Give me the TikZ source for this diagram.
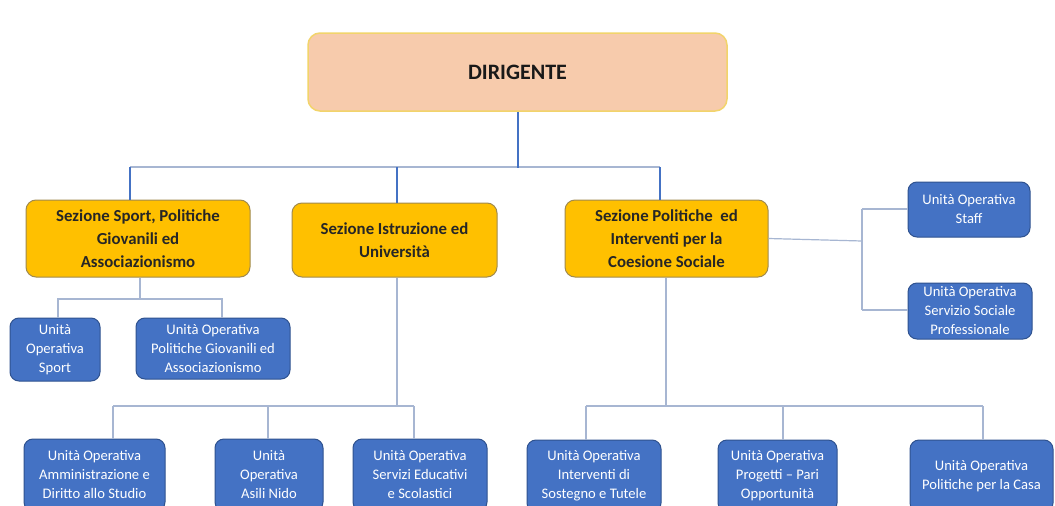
\documentclass[tikz,border=0pt]{standalone}
\usepackage{fontspec}
\setmainfont{Carlito}
\definecolor{peach}{HTML}{F7CBAC}
\definecolor{peachline}{HTML}{F2D46B}
\definecolor{gold}{HTML}{FFC000}
\definecolor{goldline}{HTML}{A08A4E}
\definecolor{ublue}{HTML}{4472C4}
\definecolor{ubline}{HTML}{2F528F}
\definecolor{thinln}{HTML}{A7B6D2}
\definecolor{thickln}{HTML}{4472C4}
\begin{document}
\begin{tikzpicture}[x=1pt,y=-1pt,
  dirbox/.style={rectangle, rounded corners=12pt, fill=peach, draw=peachline, line width=1.5pt,
    font=\bfseries\fontsize{22}{26}\selectfont, text=black!90},
  sez/.style={rectangle, rounded corners=10pt, fill=gold, draw=goldline, line width=1pt,
    align=center, inner sep=0pt, font=\bfseries\fontsize{16.8}{23}\selectfont, text=black!85},
  uo/.style={rectangle, rounded corners=9pt, fill=ublue, draw=ubline, line width=1pt,
    align=center, inner sep=0pt, text=white, font=\fontsize{14.6}{19}\selectfont},
  thinl/.style={draw=thinln, line width=1.2pt},
  thickl/.style={draw=thickln, line width=2.6pt}]
\useasboundingbox (0,0) rectangle (1055,506);
\clip (0,0) rectangle (1055,506);
\fill[white] (0,0) rectangle (1055,506);

% nodes
\node[dirbox, minimum width=419pt, minimum height=78pt] (dir) at (517.5,72) {DIRIGENTE};

\node[sez, minimum width=224pt, minimum height=77pt] (sport) at (138,238.5)
  {Sezione Sport, Politiche\\Giovanili ed\\Associazionismo};
\node[sez, minimum width=205pt, minimum height=74pt] (istr) at (394.5,240)
  {Sezione Istruzione ed\\Università};
\node[sez, minimum width=203pt, minimum height=77pt] (pol) at (666.5,238.5)
  {Sezione Politiche\ \ ed\\Interventi per la\\Coesione Sociale};

\node[uo, minimum width=90pt, minimum height=63pt] (uosport) at (55,349.5)
  {Unità\\Operativa\\Sport};
\node[uo, minimum width=154pt, minimum height=61pt] (uopg) at (213,348.5)
  {Unità Operativa\\Politiche Giovanili ed\\Associazionismo};

\node[uo, minimum width=141pt, minimum height=72pt] (uoam) at (94.5,475)
  {Unità Operativa\\Amministrazione e\\Diritto allo Studio};
\node[uo, minimum width=108pt, minimum height=72pt] (uoan) at (269,475)
  {Unità\\Operativa\\Asili Nido};
\node[uo, minimum width=134pt, minimum height=72pt] (uose) at (420,475)
  {Unità Operativa\\Servizi Educativi\\e Scolastici};

\node[uo, minimum width=134pt, minimum height=72pt] (uoint) at (594,476)
  {Unità Operativa\\Interventi di\\Sostegno e Tutele};
\node[uo, minimum width=119pt, minimum height=72pt] (uopr) at (777.5,476)
  {Unità Operativa\\Progetti -- Pari\\Opportunità};
\node[uo, minimum width=143pt, minimum height=72pt] (uoca) at (981.5,476)
  {Unità Operativa\\Politiche per la Casa};

\node[uo, minimum width=122pt, minimum height=55pt] (staff) at (969,209.5)
  {Unità Operativa\\Staff};
\node[uo, minimum width=124pt, minimum height=56pt] (serv) at (970,311)
  {Unità Operativa\\Servizio Sociale\\Professionale};

% junction coordinates
\coordinate (j0) at (518,167);
\coordinate (b1) at (130,167);
\coordinate (b2) at (397,167);
\coordinate (b3) at (660,167);

\coordinate (s0) at (140,299);
\coordinate (s1) at (58,299);
\coordinate (s2) at (222,299);

\coordinate (i0) at (397,406);
\coordinate (i1) at (113,406);
\coordinate (i2) at (268,406);
\coordinate (i3) at (414,406);

\coordinate (p0) at (666,406);
\coordinate (p1) at (586,406);
\coordinate (p2) at (783,406);
\coordinate (p3) at (983,406);

\coordinate (r0) at (862,241);
\coordinate (r1) at (862,209);
\coordinate (r2) at (862,310);

% connectors
\draw[thinl] (b1) -- (b3);
\draw[thickl] (dir.south -| j0) -- ([yshift=-1pt]j0);
\draw[thickl] (b1) -- (b1 |- sport.north);
\draw[thickl] (b2) -- (b2 |- istr.north);
\draw[thickl] (b3) -- (b3 |- pol.north);

\draw[thinl] (sport.south -| s0) -- (s0);
\draw[thinl] (s1 |- uosport.north) -- (s1) -- (s2) -- (s2 |- uopg.north);

\draw[thinl] (istr.south -| i0) -- (i0);
\draw[thinl] (i1) -- (i3);
\draw[thinl] (i1) -- (i1 |- uoam.north);
\draw[thinl] (i2) -- (i2 |- uoan.north);
\draw[thinl] (i3) -- (i3 |- uose.north);

\draw[thinl] (pol.south -| p0) -- (p0);
\draw[thinl] (p1) -- (p3);
\draw[thinl] (p1) -- (p1 |- uoint.north);
\draw[thinl] (p2) -- (p2 |- uopr.north);
\draw[thinl] (p3) -- (p3 |- uoca.north);

\draw[thinl] (pol.east) -- (r0);
\draw[thinl] (r1) -- (r2);
\draw[thinl] (r1) -- (staff.west |- r1);
\draw[thinl] (r2) -- (serv.west |- r2);
\end{tikzpicture}
\end{document}
